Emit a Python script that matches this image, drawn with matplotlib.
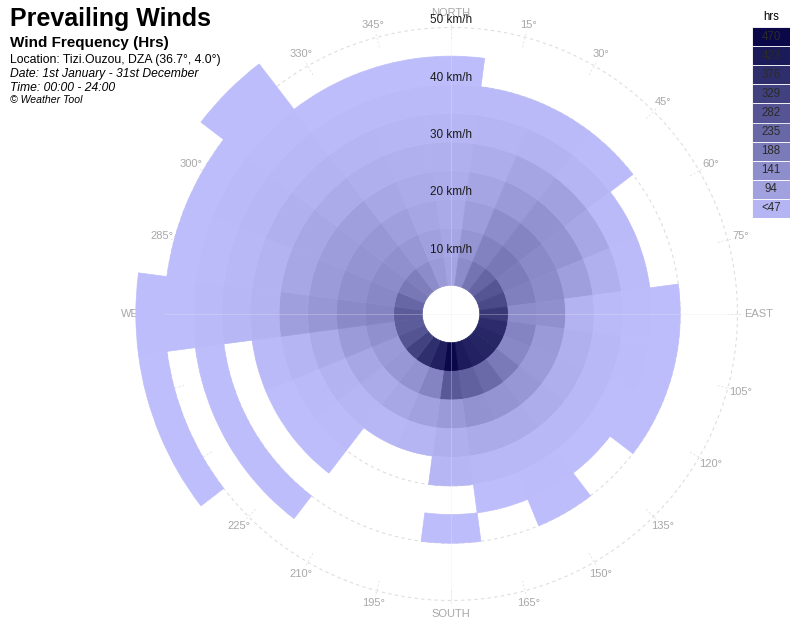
import numpy as np
import matplotlib
matplotlib.use('Agg')
import matplotlib.pyplot as plt
from matplotlib.colors import LinearSegmentedColormap, Normalize

plt.rcParams['font.family'] = ['Liberation Sans', 'DejaVu Sans']

# wind directions (deg, clockwise from north) and speed bands (km/h)
directions = np.arange(0, 360, 15)
band_lo = [5, 10, 15, 20, 25, 30, 35, 40, 45, 50]
band_width = 5

# hours per direction for each speed band, 0..345 deg
hrs_05_10 = [70, 130, 190, 230, 270, 300, 345, 380, 390, 395, 405, 420,
             470, 410, 370, 320, 275, 255, 255, 225, 180, 165, 130, 95]
hrs_10_15 = [62, 105, 155, 180, 170, 160, 127, 150, 140, 175, 215, 240,
             260, 150, 115, 100, 95, 120, 150, 140, 130, 120, 100, 78]
hrs_15_20 = [52, 85, 125, 150, 135, 130, 118, 95, 90, 100, 110, 115,
             95, 75, 60, 50, 60, 90, 135, 120, 110, 100, 80, 62]
hrs_20_25 = [45, 65, 95, 115, 110, 80, 28, 35, 40, 45, 50, 50,
             40, 25, 20, 22, 30, 50, 100, 90, 85, 80, 60, 50]
hrs_25_30 = [35, 45, 65, 75, 60, 35, 12, 15, 15, 15, 18, 15,
             22, 0, 0, 8, 12, 25, 80, 60, 60, 50, 40, 35]
hrs_30_35 = [22, 25, 30, 25, 12, 8, 6, 6, 5, 4, 6, 4,
             0, 0, 0, 3, 5, 10, 30, 30, 35, 30, 25, 22]
hrs_35_40 = [12, 10, 10, 8, 0, 0, 3, 2, 2, 0, 2, 0,
             3, 0, 0, 0, 0, 0, 20, 15, 20, 18, 12, 10]
hrs_40_45 = [4, 0, 0, 0, 0, 0, 0, 0, 0, 0, 0, 0,
             0, 0, 0, 2, 2, 2, 10, 8, 10, 8, 4, 3]
hrs_45_50 = [0, 0, 0, 0, 0, 0, 0, 0, 0, 0, 0, 0,
             0, 0, 0, 0, 0, 0, 5, 3, 4, 4, 0, 0]
hrs_50_55 = [0, 0, 0, 0, 0, 0, 0, 0, 0, 0, 0, 0,
             0, 0, 0, 0, 1, 1, 3, 0, 0, 2, 0, 0]
bands = [hrs_05_10, hrs_10_15, hrs_15_20, hrs_20_25, hrs_25_30,
         hrs_30_35, hrs_35_40, hrs_40_45, hrs_45_50, hrs_50_55]

legend_levels = [47, 94, 141, 188, 235, 282, 329, 376, 423, 470]
legend_labels = ['<47', '94', '141', '188', '235', '282', '329', '376', '423', '470']
ring_speeds = [10, 20, 30, 40, 50]
cardinals = {0: 'NORTH', 90: 'EAST', 180: 'SOUTH', 270: 'WEST'}
label_r = {0: 52.6, 90: 53.6, 180: 52.4, 270: 54.8}

cmap = LinearSegmentedColormap.from_list('wind', ['#bebefc', '#0a0848'])
norm = Normalize(0, 470)

W, H = 796, 619
fig = plt.figure(figsize=(W / 100, H / 100), dpi=100)

# polar axes centred on the rose, 5.73 px per km/h
cx, cy, px = 451, 314, 5.73
rmax = 56
rpx = rmax * px
ax = fig.add_axes([(cx - rpx) / W, (H - cy - rpx) / H, 2 * rpx / W, 2 * rpx / H],
                  projection='polar')
ax.set_theta_zero_location('N')
ax.set_theta_direction(-1)
ax.set_ylim(0, rmax)
ax.set_axis_off()

# dashed speed rings and direction ticks
th = np.linspace(0, 2 * np.pi, 500)
for s in ring_speeds:
    ax.plot(th, np.full_like(th, s), color='#dedede', lw=0.8, ls=(0, (3, 3)), zorder=1)
for d in directions:
    ax.plot([np.radians(d)] * 2, [48.2, 51.0], color='#e4e4e4', lw=0.7,
            ls=(0, (2, 2)), zorder=1)
    ax.text(np.radians(d), label_r.get(d, 52.3), cardinals.get(d, '%d°' % d),
            ha='center', va='center', fontsize=8, color='#a8a8a8', zorder=1)

# frequency cells
theta = np.radians(directions)
for lo, band in zip(band_lo, bands):
    vals = np.array(band, dtype=float)
    m = vals > 0
    cols = cmap(norm(vals[m]))
    ax.bar(theta[m], band_width, width=np.radians(15), bottom=lo, align='center',
           color=cols, edgecolor=cols, linewidth=0.5, zorder=2)

# faint axis lines through the centre
for a in [0, 90, 180, 270]:
    ax.plot([np.radians(a)] * 2, [0, 50], color='#e8e8f0', lw=0.7, alpha=0.3, zorder=3)

for s in ring_speeds:
    ax.text(0, s + 1.25, '%d km/h' % s, ha='center', va='center', fontsize=8.5,
            color='#1a1a1a', zorder=4)

# titles
fig.text(10 / W, 1 - 19 / H, 'Prevailing Winds', fontsize=18, fontweight='bold', va='center')
fig.text(10 / W, 1 - 43 / H, 'Wind Frequency (Hrs)', fontsize=11, fontweight='bold', va='center')
fig.text(10 / W, 1 - 60 / H, 'Location: Tizi.Ouzou, DZA (36.7°, 4.0°)', fontsize=8.8, va='center')
fig.text(10 / W, 1 - 74 / H, 'Date: 1st January - 31st December', fontsize=8.7,
         style='italic', va='center')
fig.text(10 / W, 1 - 88 / H, 'Time: 00:00 - 24:00', fontsize=8.7, style='italic', va='center')
fig.text(10 / W, 1 - 100 / H, '© Weather Tool', fontsize=7.6, style='italic', va='center')

# legend scale
lax = fig.add_axes([752 / W, 1 - 218 / H, 38 / W, 191 / H])
lax.set_xlim(0, 1)
lax.set_ylim(0, len(legend_levels))
lax.axis('off')
shade = np.linspace(25, 470, len(legend_levels))
for k, (v, lab) in enumerate(zip(shade, legend_labels)):
    lax.bar(0.5, 1, width=1, bottom=k, color=cmap(norm(v)), edgecolor='white', linewidth=0.6)
    lax.text(0.5, k + 0.5, lab, ha='center', va='center', fontsize=8.3, color='#2a2a2a')
fig.text(771 / W, 1 - 17 / H, 'hrs', ha='center', va='center', fontsize=8.3)

fig.savefig('out.png', dpi=100)
